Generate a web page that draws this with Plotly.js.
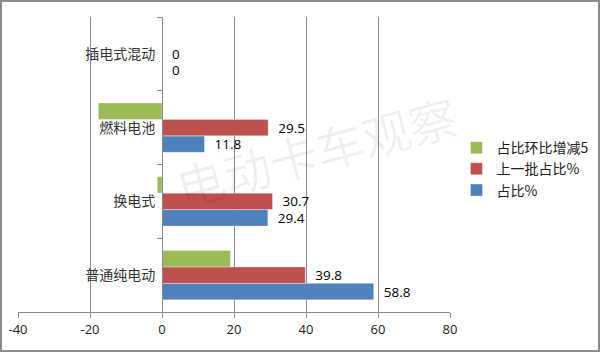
<!DOCTYPE html>
<html><head><meta charset="utf-8">
<script src="https://cdn.plot.ly/plotly-3.0.1.min.js"></script>
<style>html,body{margin:0;padding:0;background:#fff}#c{width:600px;height:352px}</style>
</head><body><div id="c"></div>
<script>
var categories = ['普通纯电动', '换电式', '燃料电池', '插电式混动'];
var share = [58.8, 29.4, 11.8, 0];          // 占比%
var prevShare = [39.8, 30.7, 29.5, 0];      // 上一批占比%
var change = [19.0, -1.3, -17.7, 0];        // 占比环比增减5
var seriesNames = ['占比%', '上一批占比%', '占比环比增减5'];
var xTickVals = [-40, -20, 0, 20, 40, 60, 80];
var xTickText = ['-40', '-20', '0', '20', '40', '60', '80'];

var labelFont = {family: 'Open Sans, Liberation Sans, sans-serif', size: 13.5, color: '#000'};
function bar(vals, name, color, withText) {
  var t = {type: 'bar', orientation: 'h', x: vals, y: categories, name: name,
    marker: {color: color, line: {color: 'rgba(255,255,255,0.35)', width: 1}},
    cliponaxis: false, hoverinfo: 'none'};
  if (withText) {
    t.texttemplate = '\u00a0\u00a0%{x}';
    t.textposition = 'outside';
    t.constraintext = 'none';
    t.textfont = labelFont;
  }
  return t;
}
var data = [
  bar(share, seriesNames[0], '#4f81bd', true),
  bar(prevShare, seriesNames[1], '#c0504d', true),
  bar(change, seriesNames[2], '#9bbb59', false)
];
var layout = {
  width: 600, height: 352,
  margin: {l: 18, r: 150, t: 17, b: 40, autoexpand: false},
  paper_bgcolor: '#fff', plot_bgcolor: '#fff',
  barmode: 'group', bargap: 0.33, bargroupgap: 0,
  showlegend: true,
  legend: {traceorder: 'reversed', x: 1.015, xanchor: 'left', y: 0.61, yanchor: 'top',
    font: {family: 'Noto Sans CJK SC, sans-serif', size: 14, color: '#222'},
    itemwidth: 30, tracegroupgap: 0},
  xaxis: {range: [-40, 80], tickvals: xTickVals, ticktext: xTickText,
    showgrid: true, gridcolor: '#8a8a8a', gridwidth: 1, zeroline: false,
    showline: true, linecolor: '#8a8a8a', linewidth: 1,
    ticks: 'outside', ticklen: 5, tickcolor: '#8a8a8a',
    tickfont: {family: 'Open Sans, Liberation Sans, sans-serif', size: 13, color: '#222'}},
  yaxis: {type: 'category', anchor: 'free', position: 1/3,
    showline: true, linecolor: '#8a8a8a', linewidth: 1,
    showgrid: false, zeroline: false,
    ticks: 'outside', tickson: 'boundaries', ticklen: 5, tickcolor: '#8a8a8a',
    ticklabelstandoff: 4,
    tickfont: {family: 'Noto Sans CJK SC, sans-serif', size: 14, color: '#333'}},
  annotations: [{text: '电动卡车观察', xref: 'paper', yref: 'paper', x: 0.69, y: 0.55,
    xanchor: 'center', yanchor: 'middle',
    showarrow: false, textangle: -15,
    font: {family: 'Noto Sans CJK SC, sans-serif', size: 48, color: 'rgba(0,0,0,0.06)'}}],
  shapes: [{type: 'rect', xref: 'paper', yref: 'paper', x0: -17/432, x1: 581/432, y0: -39/295, y1: 311/295,
    line: {color: '#8c8c8c', width: 2}, fillcolor: 'rgba(0,0,0,0)', layer: 'above'}]
};
Plotly.newPlot('c', data, layout, {displayModeBar: false, staticPlot: true});
</script></body></html>
